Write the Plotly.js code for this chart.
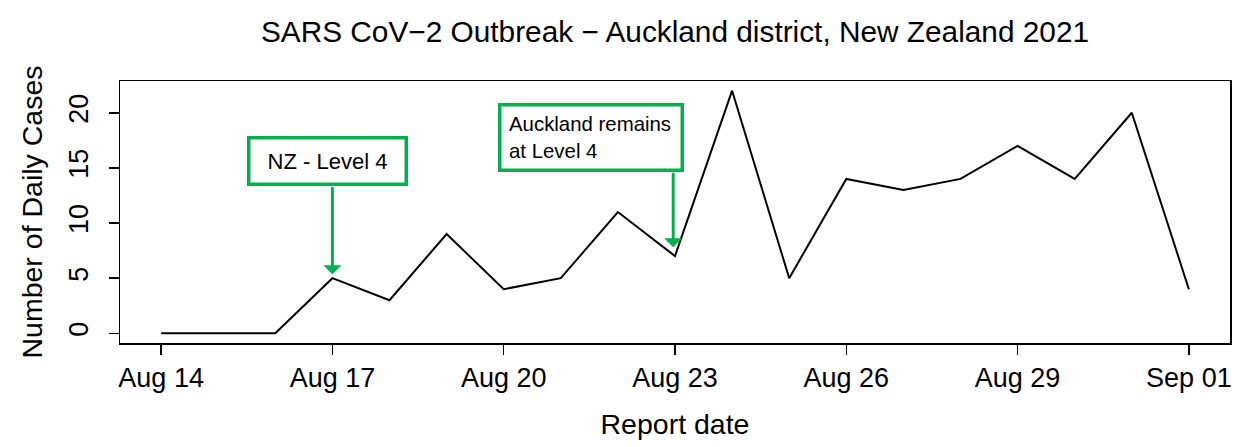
<!DOCTYPE html>
<html>
<head>
<meta charset="utf-8">
<script src="https://cdn.plot.ly/plotly-3.0.1.min.js"></script>
<style>html,body{margin:0;padding:0;background:#fff;}#chart{width:1256px;height:447px;}</style>
</head>
<body>
<div id="chart"></div>
<script>
const dates = ["2021-08-14","2021-08-15","2021-08-16","2021-08-17","2021-08-18","2021-08-19","2021-08-20","2021-08-21","2021-08-22","2021-08-23","2021-08-24","2021-08-25","2021-08-26","2021-08-27","2021-08-28","2021-08-29","2021-08-30","2021-08-31","2021-09-01"];
const cases = [0,0,0,5,3,9,4,5,11,7,22,5,14,13,14,17,14,20,4];
const tickDates = ["2021-08-14","2021-08-17","2021-08-20","2021-08-23","2021-08-26","2021-08-29","2021-09-01"];
const tickLabels = ["Aug 14","Aug 17","Aug 20","Aug 23","Aug 26","Aug 29","Sep 01"];
const yTicks = [0,5,10,15,20];
const note1 = "NZ - Level 4";
const note2 = "Auckland remains<br>at Level 4";

const FONT = "Liberation Sans, Arial, sans-serif";
const GREEN = "#00B050";

const data = [{
  x: dates, y: cases, type: "scatter", mode: "lines",
  line: {color: "#000", width: 2}, hoverinfo: "skip"
}];

const layout = {
  width: 1256, height: 447,
  margin: {l: 120, r: 26, t: 81, b: 104},
  paper_bgcolor: "#fff", plot_bgcolor: "#fff",
  showlegend: false,
  font: {family: FONT, color: "#000"},
  title: {text: "SARS CoV\u22122 Outbreak \u2212 Auckland district, New Zealand 2021",
          font: {size: 29.8, family: FONT, color: "#000"}, xref: "paper", x: 0.5, xanchor: "center", y: 0.93, yanchor: "middle"},
  xaxis: {
    type: "date", range: ["2021-08-13 06:43", "2021-09-01 17:17"],
    tickvals: tickDates, ticktext: tickLabels,
    ticks: "outside", ticklen: 10, tickwidth: 1.5, tickcolor: "#000",
    showline: true, mirror: true, linecolor: "#000", linewidth: 1.5,
    showgrid: false, zeroline: false,
    tickfont: {size: 27, family: FONT, color: "#000"},
    title: {text: "Report date", font: {size: 28.5, family: FONT, color: "#000"}, standoff: 22}
  },
  yaxis: {
    range: [-0.88, 22.88],
    tickvals: yTicks, ticktext: yTicks.map(String),
    tickangle: -90,
    ticks: "outside", ticklen: 10, tickwidth: 1.5, tickcolor: "#000",
    ticklabelstandoff: 10,
    showline: true, mirror: true, linecolor: "#000", linewidth: 1.5,
    showgrid: false, zeroline: false,
    tickfont: {size: 27, family: FONT, color: "#000"},
    title: {text: "Number of Daily Cases", font: {size: 28.5, family: FONT, color: "#000"}, standoff: 12}
  },
  annotations: [
    {x: "2021-08-16 22:00", y: 15.64, xref: "x", yref: "y", text: note1, showarrow: false,
     font: {size: 22, family: FONT, color: "#000"}, bgcolor: "#fff",
     bordercolor: GREEN, borderwidth: 3.5, borderpad: 0, width: 154, height: 43, align: "center"},
    {x: "2021-08-21 12:30", y: 17.77, xref: "x", yref: "y", text: note2, showarrow: false,
     font: {size: 20.4, family: FONT, color: "#000"}, bgcolor: "#fff",
     bordercolor: GREEN, borderwidth: 3.5, borderpad: 7.5, width: 164, height: 47, align: "left"},
    {x: "2021-08-17", y: 5.35, xref: "x", yref: "y", ax: "2021-08-17", ay: 13.4, axref: "x", ayref: "y",
     text: "", showarrow: true, arrowhead: 1, arrowsize: 1.0, arrowwidth: 3, arrowcolor: GREEN, standoff: 0},
    {x: "2021-08-22 23:15", y: 7.8, xref: "x", yref: "y", ax: "2021-08-22 23:15", ay: 14.7, axref: "x", ayref: "y",
     text: "", showarrow: true, arrowhead: 1, arrowsize: 1.0, arrowwidth: 3, arrowcolor: GREEN, standoff: 0}
  ]
};

Plotly.newPlot("chart", data, layout, {displayModeBar: false, staticPlot: true});
</script>
</body>
</html>
